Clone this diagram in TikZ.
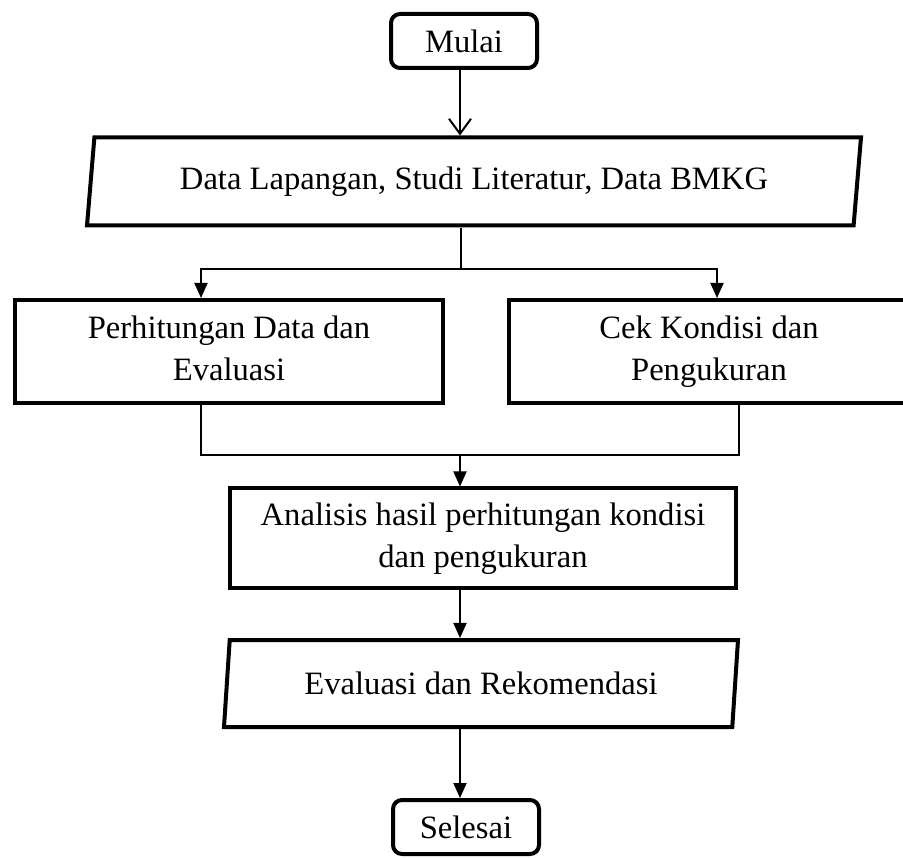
\documentclass[tikz,border=0pt]{standalone}
\usepackage{fontspec}
\setmainfont{Liberation Serif}
\usetikzlibrary{shapes.geometric,arrows.meta,positioning,calc}

\begin{document}
\begin{tikzpicture}[x=1pt, y=-1pt, >={Triangle[length=15pt,width=13pt]}, line width=2pt, font=\fontsize{32.6}{42}\selectfont]
\tikzstyle{terminal}=[draw, line width=4pt, rounded corners=9pt, minimum width=146pt, minimum height=54pt, inner sep=0pt]
\tikzstyle{process}=[draw, line width=4pt, align=center, inner sep=0pt, minimum height=103pt]
\tikzstyle{io}=[draw, line width=4pt, trapezium, trapezium left angle=76, trapezium right angle=104, trapezium stretches body, minimum height=88pt, inner sep=0pt]
\useasboundingbox (0,0) rectangle (903,858);
\node[terminal] (A) at (464,41)    {Mulai};
\node[io, minimum width=774pt] (B) at (474,181.5) {Data Lapangan, Studi Literatur, Data BMKG};
\node[process, minimum width=428pt] (C) at (229,351.5) {\strut Perhitungan Data dan\\\strut Evaluasi};
\node[process, minimum width=400pt] (D) at (709,351.5) {\strut Cek Kondisi dan\\\strut Pengukuran};
\node[process, minimum width=506pt, minimum height=99pt] (E) at (483,538) {\strut Analisis hasil perhitungan kondisi\\\strut dan pengukuran};
\node[io, minimum width=514pt, minimum height=87pt] (F) at (481,683.5) {Evaluasi dan Rekomendasi};
\node[terminal] (G) at (466,827)   {Selesai};
\coordinate (split) at (461,269);
\coordinate (merge) at (460,455);
% alur utama
\draw[-{Straight Barb[length=15pt,width=22pt]}] (A.south -| merge) -- (B.north -| merge);
\draw (B.south -| split) -- (split);
\draw[->] (split) -| ([xshift=-28pt]C.north);
\draw[->] (split) -| ([xshift=8pt]D.north);
\draw ([xshift=-28pt]C.south) |- (merge);
\draw ([xshift=30pt]D.south) |- (merge);
\draw[->] (merge) -- (merge |- E.north);
\draw[->] (E.south -| merge) -- (F.north -| merge);
\draw[->] (F.south -| merge) -- (G.north -| merge);
\end{tikzpicture}
\end{document}
